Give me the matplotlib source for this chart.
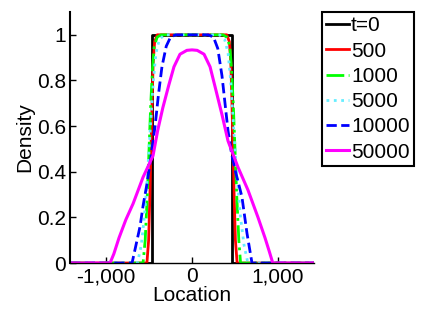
import matplotlib
matplotlib.use("Agg")
import matplotlib.pyplot as plt

plt.rcParams['font.family'] = ['Liberation Sans', 'DejaVu Sans']
plt.rcParams['font.size'] = 15

# density profiles (location, density)
x_t0 = [-1420, -465, -465, 465, 465, 1420]
y_t0 = [0, 0, 1, 1, 0, 0]

x_500 = [-1420, -525, -505, -490, -478, -465, -452, -435, -405, 405, 435, 452, 465, 478, 490, 505, 525, 1420]
y_500 = [0, 0, 0.1, 0.3, 0.5, 0.7, 0.88, 0.97, 1.0, 1.0, 0.97, 0.88, 0.7, 0.5, 0.3, 0.1, 0, 0]

x_1000 = [-1420, -570, -545, -520, -500, -480, -460, -440, -405, -360, 360, 405, 440, 460, 480, 500, 520, 545, 565, 1420]
y_1000 = [0, 0, 0.1, 0.3, 0.5, 0.7, 0.85, 0.95, 0.99, 1.0, 1.0, 0.99, 0.95, 0.85, 0.7, 0.5, 0.3, 0.1, 0, 0]

x_5000 = [-1420, -635, -590, -555, -525, -500, -475, -450, -420, -380, -320, 320, 380, 420, 450, 475, 500, 530, 565, 605, 650, 1420]
y_5000 = [0, 0, 0.08, 0.2, 0.35, 0.5, 0.65, 0.8, 0.92, 0.98, 1.0, 1.0, 0.98, 0.92, 0.8, 0.65, 0.5, 0.35, 0.2, 0.08, 0, 0]

x_10000 = [-1420, -698, -663, -605, -570, -523, -480, -430, -390, -350, -300, -250, -190,
           190, 250, 300, 349, 384, 419, 460, 500, 581, 640, 698, 1420]
y_10000 = [0, 0, 0.06, 0.16, 0.25, 0.35, 0.46, 0.60, 0.74, 0.86, 0.95, 0.99, 1.0,
           1.0, 0.99, 0.94, 0.82, 0.7, 0.58, 0.48, 0.41, 0.29, 0.13, 0, 0]

x_50000 = [-1420, -954, -910, -850, -770, -686, -570, -454, -400, -340, -270, -210, -140, -60, 0,
           60, 140, 210, 270, 349, 419, 535, 651, 768, 850, 900, 940, 1420]
y_50000 = [0, 0, 0.04, 0.11, 0.19, 0.26, 0.376, 0.47, 0.58, 0.68, 0.78, 0.86, 0.915, 0.932, 0.934,
           0.932, 0.915, 0.86, 0.77, 0.65, 0.535, 0.42, 0.32, 0.2, 0.11, 0.05, 0, 0]

labels = ['t=0', '500', '1000', '5000', '10000', '50000']
x_ticks = [-1000, 0, 1000]
x_ticklabels = ['-1,000', '0', '1,000']
y_ticks = [0, 0.2, 0.4, 0.6, 0.8, 1]
y_ticklabels = ['0', '0.2', '0.4', '0.6', '0.8', '1']

fig = plt.figure(figsize=(4.36, 3.11), dpi=100)
ax = fig.add_axes([0.1606, 0.1543, 0.5596, 0.8071])

ax.plot(x_t0, y_t0, color='black', lw=2, label=labels[0])
ax.plot(x_500, y_500, color='red', lw=2, label=labels[1])
ax.plot(x_1000, y_1000, color='#00ff00', lw=2, ls='-.', label=labels[2])
ax.plot(x_5000, y_5000, color='#66eeff', lw=2, ls=':', label=labels[3])
ax.plot(x_10000, y_10000, color='blue', lw=2, ls='--', label=labels[4])
ax.plot(x_50000, y_50000, color='magenta', lw=2.2, label=labels[5])

ax.set_xlim(-1420, 1420)
ax.set_ylim(0, 1.1)
ax.set_xticks(x_ticks)
ax.set_xticklabels(x_ticklabels)
ax.set_yticks(y_ticks)
ax.set_yticklabels(y_ticklabels)
ax.tick_params(direction='in', length=4, width=1, pad=3)
ax.spines['top'].set_visible(False)
ax.spines['right'].set_visible(False)
ax.spines['left'].set_linewidth(1.5)
ax.spines['bottom'].set_linewidth(1.0)
ax.set_xlabel('Location', labelpad=0)
ax.set_ylabel('Density', labelpad=2)

leg = ax.legend(loc='upper left', bbox_to_anchor=(0.738, 0.961), bbox_transform=fig.transFigure,
                fontsize=15, handlelength=1.1, handletextpad=0.1, labelspacing=0.3,
                borderpad=0.2, borderaxespad=0, fancybox=False, framealpha=1)
leg.get_frame().set_edgecolor('black')
leg.get_frame().set_linewidth(1.5)

fig.savefig('out.png', dpi=100)
